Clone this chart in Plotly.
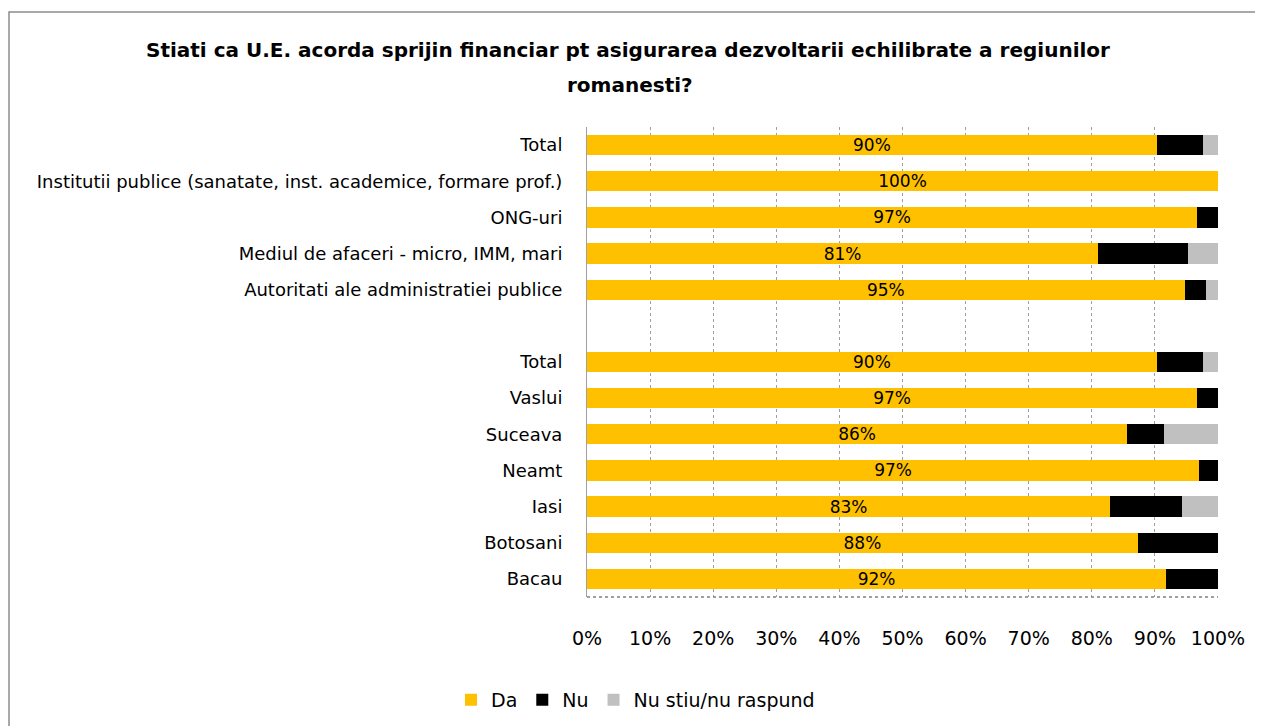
import plotly.graph_objects as go

categories = ["Total", "Institutii publice (sanatate, inst. academice, formare prof.)", "ONG-uri",
              "Mediul de afaceri - micro, IMM, mari", "Autoritati ale administratiei publice", "",
              "Total", "Vaslui", "Suceava", "Neamt", "Iasi", "Botosani", "Bacau"]
da = [90.3, 100.0, 96.7, 81.0, 94.7, None, 90.3, 96.7, 85.6, 97.0, 82.9, 87.3, 91.8]
nu = [7.3, 0.0, 3.3, 14.2, 3.4, None, 7.3, 3.3, 5.8, 3.0, 11.4, 12.7, 8.2]
ns = [2.4, 0.0, 0.0, 4.8, 1.9, None, 2.4, 0.0, 8.6, 0.0, 5.7, 0.0, 0.0]
da_labels = ["90%", "100%", "97%", "81%", "95%", "", "90%", "97%", "86%", "97%", "83%", "88%", "92%"]
x_ticks = [0, 10, 20, 30, 40, 50, 60, 70, 80, 90, 100]
title_line1 = "Stiati ca U.E. acorda sprijin financiar pt asigurarea dezvoltarii echilibrate a regiunilor"
title_line2 = "romanesti?"

pos = list(range(len(categories)))
FONT = "DejaVu Sans, sans-serif"

fig = go.Figure()
fig.add_trace(go.Bar(y=pos, x=da, name="Da", orientation="h", marker_color="#FFC000",
                     marker_line_width=0, text=da_labels, textposition="inside",
                     insidetextanchor="middle", constraintext="none",
                     textfont=dict(color="black", size=17, family=FONT),
                     width=0.56, hoverinfo="x+name"))
fig.add_trace(go.Bar(y=pos, x=nu, name="Nu", orientation="h", marker_color="#000000",
                     marker_line_width=0, width=0.56))
fig.add_trace(go.Bar(y=pos, x=ns, name="Nu stiu/nu raspund", orientation="h", marker_color="#C0C0C0",
                     marker_line_width=0, width=0.56))

fig.update_layout(
    barmode="stack",
    width=1255, height=718,
    margin=dict(l=579, r=45, t=119, b=129),
    paper_bgcolor="white", plot_bgcolor="white",
    font=dict(family=FONT, color="black", size=18),
    title=dict(text="<b>" + title_line1 + "</b>",
               x=0.494, xref="container", xanchor="center", y=1 - 42 / 718, yref="container", yanchor="middle",
               font=dict(size=20, family=FONT, color="black")),
    legend=dict(orientation="h", x=0.5, xref="container", xanchor="center", y=0.01, yref="container",
                yanchor="bottom", font=dict(size=19, family=FONT), traceorder="normal"),
    showlegend=True,
)
fig.add_annotation(text="<b>" + title_line2 + "</b>", xref="paper", yref="paper",
                   x=(622 - 579) / 631, y=1 + (119 - 77) / 470, xanchor="center", yanchor="middle",
                   showarrow=False, font=dict(size=20, family=FONT, color="black"))
fig.update_xaxes(range=[0, 100], tickvals=x_ticks, ticktext=[f"{v}%" for v in x_ticks],
                 showgrid=True, gridcolor="#A0A0A0", griddash="dot", gridwidth=1,
                 zeroline=False, showline=False, ticks="", ticklabelstandoff=28,
                 tickfont=dict(size=19, family=FONT))
fig.update_yaxes(tickvals=pos, ticktext=categories,
                 showgrid=False, zeroline=False, showline=True, linecolor="#A0A0A0", linewidth=1,
                 ticks="", ticklabelstandoff=20, tickfont=dict(size=18, family=FONT))
fig.update_yaxes(range=[len(categories) - 0.5, -0.5], autorange=False)

# dotted bottom axis line
fig.add_shape(type="line", xref="paper", yref="paper", x0=0, x1=1, y0=0, y1=0,
              line=dict(color="#808080", width=1.5, dash="dot"))
# chart border
fig.add_shape(type="rect", xref="paper", yref="paper", x0=-0.916, x1=1.2, y0=-0.4, y1=1.2447,
              line=dict(color="#8C8C8C", width=1.5), fillcolor="rgba(0,0,0,0)", layer="below")

fig.write_html("out.html")
